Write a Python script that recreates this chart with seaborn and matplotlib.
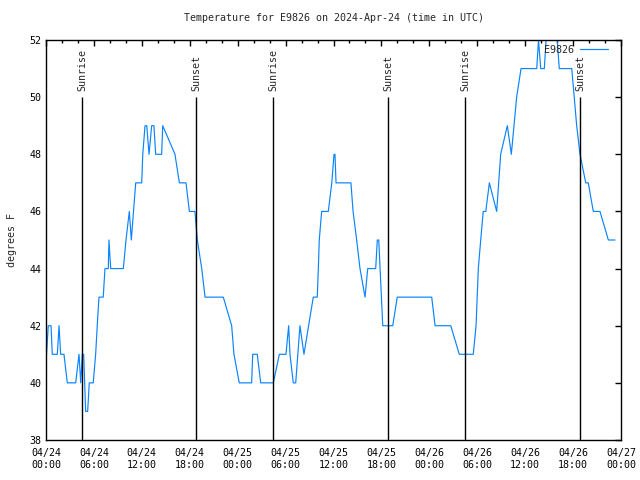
import matplotlib
matplotlib.use("Agg")
import matplotlib.pyplot as plt
import matplotlib.dates as mdates
from matplotlib.ticker import MultipleLocator
import seaborn as sns
import pandas as pd

times = [
    "2024-04-24 00:04", "2024-04-24 00:17", "2024-04-24 00:38", "2024-04-24 00:47",
    "2024-04-24 01:25", "2024-04-24 01:38", "2024-04-24 01:50", "2024-04-24 02:15",
    "2024-04-24 02:40", "2024-04-24 03:43", "2024-04-24 04:08", "2024-04-24 04:21",
    "2024-04-24 04:33", "2024-04-24 04:43", "2024-04-24 04:58", "2024-04-24 05:13",
    "2024-04-24 05:25", "2024-04-24 05:55", "2024-04-24 06:13", "2024-04-24 06:25",
    "2024-04-24 06:38", "2024-04-24 07:10", "2024-04-24 07:23", "2024-04-24 07:48",
    "2024-04-24 07:53", "2024-04-24 08:06", "2024-04-24 09:41", "2024-04-24 10:01",
    "2024-04-24 10:26", "2024-04-24 10:41", "2024-04-24 11:14", "2024-04-24 11:59",
    "2024-04-24 12:07", "2024-04-24 12:24", "2024-04-24 12:37", "2024-04-24 12:54",
    "2024-04-24 13:14", "2024-04-24 13:31", "2024-04-24 13:44", "2024-04-24 14:29",
    "2024-04-24 14:37", "2024-04-24 16:09", "2024-04-24 16:42", "2024-04-24 17:32",
    "2024-04-24 17:57", "2024-04-24 18:39", "2024-04-24 18:57", "2024-04-24 19:30",
    "2024-04-24 19:55", "2024-04-24 22:12", "2024-04-24 23:15", "2024-04-24 23:32",
    "2024-04-25 00:12", "2024-04-25 01:45", "2024-04-25 01:53", "2024-04-25 02:27",
    "2024-04-25 02:53", "2024-04-25 04:28", "2024-04-25 05:13", "2024-04-25 06:03",
    "2024-04-25 06:23", "2024-04-25 06:33", "2024-04-25 06:58", "2024-04-25 07:16",
    "2024-04-25 07:48", "2024-04-25 08:18", "2024-04-25 09:28", "2024-04-25 09:58",
    "2024-04-25 10:06", "2024-04-25 10:13", "2024-04-25 10:31", "2024-04-25 11:21",
    "2024-04-25 11:47", "2024-04-25 12:04", "2024-04-25 12:11", "2024-04-25 12:19",
    "2024-04-25 14:11", "2024-04-25 14:27", "2024-04-25 14:54", "2024-04-25 15:19",
    "2024-04-25 15:57", "2024-04-25 16:17", "2024-04-25 17:17", "2024-04-25 17:29",
    "2024-04-25 17:40", "2024-04-25 18:10", "2024-04-25 19:25", "2024-04-25 19:59",
    "2024-04-26 00:18", "2024-04-26 00:43", "2024-04-26 02:41", "2024-04-26 03:45",
    "2024-04-26 05:30", "2024-04-26 05:51", "2024-04-26 06:08", "2024-04-26 06:26",
    "2024-04-26 06:45", "2024-04-26 07:04", "2024-04-26 07:31", "2024-04-26 08:26",
    "2024-04-26 08:56", "2024-04-26 09:46", "2024-04-26 10:16", "2024-04-26 10:56",
    "2024-04-26 11:29", "2024-04-26 13:27", "2024-04-26 13:40", "2024-04-26 13:57",
    "2024-04-26 14:24", "2024-04-26 14:37", "2024-04-26 14:52", "2024-04-26 15:44",
    "2024-04-26 16:01", "2024-04-26 16:16", "2024-04-26 17:50", "2024-04-26 18:27",
    "2024-04-26 18:52", "2024-04-26 19:35", "2024-04-26 19:54", "2024-04-26 20:32",
    "2024-04-26 21:22", "2024-04-26 22:25", "2024-04-26 23:15",
]
temps = [
    41, 42, 42, 41,
    41, 42, 41, 41,
    40, 40, 41, 40,
    41, 41, 39, 39,
    40, 40, 41, 42,
    43, 43, 44, 44,
    45, 44, 44, 45,
    46, 45, 47, 47,
    48, 49, 49, 48,
    49, 49, 48, 48,
    49, 48, 47, 47,
    46, 46, 45, 44,
    43, 43, 42, 41,
    40, 40, 41, 41,
    40, 40, 41, 41,
    42, 41, 40, 40,
    42, 41, 43, 43,
    44, 45, 46, 46,
    47, 48, 48, 47,
    47, 46, 45, 44,
    43, 44, 44, 45,
    45, 42, 42, 43,
    43, 42, 42, 41,
    41, 42, 44, 45,
    46, 46, 47, 46,
    48, 49, 48, 50,
    51, 51, 52, 51,
    51, 52, 53, 53,
    52, 51, 51, 49,
    48, 47, 47, 46,
    46, 45, 45,
]
sunrise_times = ["2024-04-24 04:32", "2024-04-25 04:29", "2024-04-26 04:29"]
sunset_times = ["2024-04-24 18:49", "2024-04-25 18:53", "2024-04-26 18:54"]
series_name = "E9826"
title = "Temperature for E9826 on 2024-Apr-24 (time in UTC)"
ylabel = "degrees F"

df = pd.DataFrame({"time": pd.to_datetime(times), "temp": temps})

sns.set_style("white")
FONT = ["DejaVu Sans Mono"]
plt.rcParams["font.family"] = FONT
plt.rcParams["font.size"] = 7.2

fig = plt.figure(figsize=(6.4, 4.8), dpi=100)
ax = fig.add_axes([46 / 640, 40 / 480, 575 / 640, 400 / 480])

sns.lineplot(data=df, x="time", y="temp", ax=ax, color="#0a84ff",
             linewidth=0.85, label=series_name)

for t in pd.to_datetime(sunrise_times):
    ax.vlines(t, 38, 50, color="black", linewidth=1.0)
    ax.text(t, 50.2, "Sunrise", rotation=90, ha="center", va="bottom", fontsize=7.2)
for t in pd.to_datetime(sunset_times):
    ax.vlines(t, 38, 50, color="black", linewidth=1.0)
    ax.text(t, 50.2, "Sunset", rotation=90, ha="center", va="bottom", fontsize=7.2)

ax.set_xlim(pd.Timestamp("2024-04-24 00:00"), pd.Timestamp("2024-04-27 00:00"))
ax.set_ylim(38, 52)
ax.xaxis.set_major_locator(mdates.HourLocator(byhour=[0, 6, 12, 18]))
ax.xaxis.set_minor_locator(mdates.HourLocator(byhour=range(0, 24, 2)))
ax.xaxis.set_major_formatter(mdates.DateFormatter("%m/%d\n%H:%M"))
ax.yaxis.set_major_locator(MultipleLocator(2))

ax.tick_params(axis="both", which="both", direction="in", top=True, right=True,
               colors="black", labelsize=7.2)
ax.tick_params(which="major", length=4, width=1)
ax.tick_params(which="minor", length=2, width=1)
ax.tick_params(axis="x", pad=6)
for s in ax.spines.values():
    s.set_color("black")
    s.set_linewidth(1.0)

ax.set_xlabel("")
ax.set_ylabel(ylabel, fontsize=7.2, labelpad=9)
ax.set_title(title, fontsize=7.2, pad=14)

leg = ax.legend(loc="upper right", bbox_to_anchor=(1 - 3 / 575, 1 + 5 / 400),
                frameon=False, markerfirst=False, handlelength=2.8,
                handletextpad=0.6, borderaxespad=0.6, fontsize=7.2)

fig.savefig("out.png", dpi=100)
